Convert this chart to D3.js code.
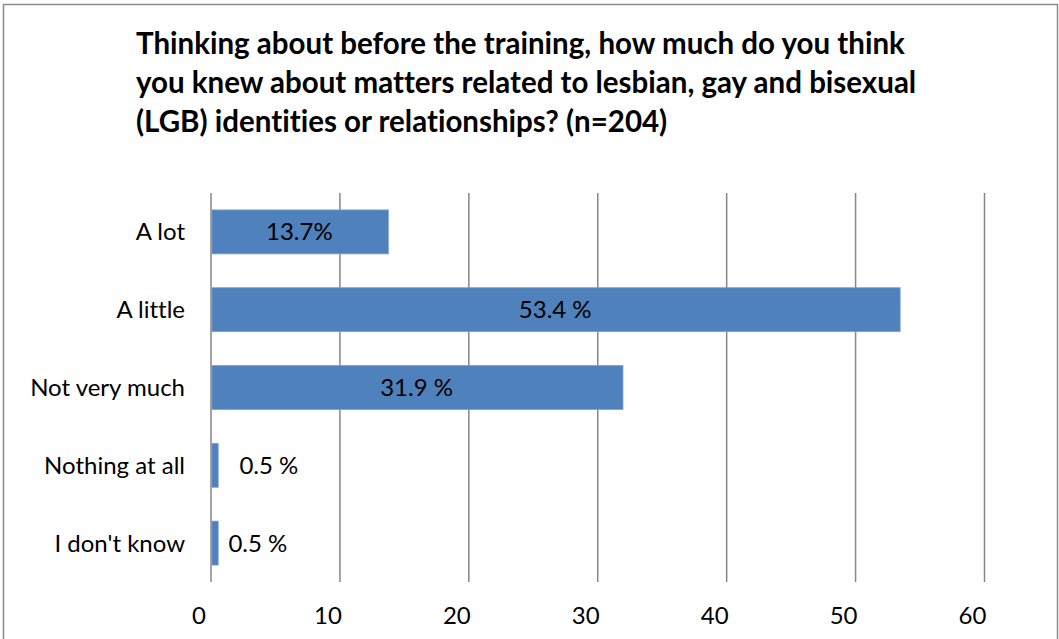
<!DOCTYPE html>
<html>
<head>
<meta charset="utf-8">
<script src="https://cdn.jsdelivr.net/npm/d3@7"></script>
<style>
  body { margin: 0; background: #fff; }
  svg text { font-family: Lato, "Open Sans", sans-serif; fill: #000; font-variant-ligatures: none; }
</style>
</head>
<body>
<div id="chart"></div>
<script>
// Data
const categories = ["A lot", "A little", "Not very much", "Nothing at all", "I don't know"];
const values = [13.7, 53.4, 31.9, 0.5, 0.5];
const valueLabels = ["13.7%", "53.4 %", "31.9 %", "0.5 %", "0.5 %"];
const xTicks = [0, 10, 20, 30, 40, 50, 60];
const titleLines = [
  "Thinking about before the training, how much do you think",
  "you knew about matters related to lesbian, gay and bisexual",
  "(LGB) identities or relationships? (n=204)"
];

const W = 1059, H = 639;
const margin = {top: 193, left: 211, right: 74, bottom: 57};
const width = 773.5,
      height = H - margin.top - margin.bottom;

const svg = d3.select("#chart").append("svg")
    .attr("width", W)
    .attr("height", H);

// outer chart border
svg.append("rect")
    .attr("x", 3.5).attr("y", 4.5)
    .attr("width", 1054).attr("height", 650)
    .attr("fill", "#fff")
    .attr("stroke", "#8c8c8c")
    .attr("stroke-width", 1.5);

// title
svg.append("g").selectAll("text")
    .data(titleLines)
    .join("text")
    .attr("x", 136)
    .attr("y", (d, i) => 54 + i * 39)
    .attr("font-size", 29.5)
    .attr("font-weight", "bold")
    .text(d => d);

const g = svg.append("g")
    .attr("transform", "translate(" + margin.left + "," + margin.top + ")");

const x = d3.scaleLinear().domain([0, 60]).range([0, width]);

const y = d3.scaleBand()
    .domain(categories)
    .range([0, height])
    .paddingInner(0.435)
    .paddingOuter(0.2175);

// vertical gridlines
g.append("g").selectAll("line")
    .data(xTicks)
    .join("line")
    .attr("x1", d => x(d)).attr("x2", d => x(d))
    .attr("y1", 0).attr("y2", height)
    .attr("stroke", "#868686")
    .attr("stroke-width", 1.5);

// x tick labels
g.append("g").selectAll("text")
    .data(xTicks)
    .join("text")
    .attr("x", d => x(d) - 12)
    .attr("y", height + 42)
    .attr("text-anchor", "middle")
    .attr("font-size", 24)
    .text(d => d);

// category labels
g.append("g").selectAll("text")
    .data(categories)
    .join("text")
    .attr("x", -26)
    .attr("y", d => y(d) + y.bandwidth() / 2)
    .attr("dy", "0.35em")
    .attr("text-anchor", "end")
    .attr("font-size", 24)
    .text(d => d);

// bars
const rows = categories.map((c, i) => ({cat: c, value: values[i], label: valueLabels[i]}));

g.append("g").selectAll("rect")
    .data(rows)
    .join("rect")
    .attr("x", x(0) + 0.75)
    .attr("y", d => y(d.cat))
    .attr("width", d => x(d.value) - x(0))
    .attr("height", y.bandwidth())
    .attr("fill", "#4f81bd")
    .attr("stroke", "#7ea1cf")
    .attr("stroke-width", 0.8);

// value labels: centred inside long bars, to the right of tiny ones
const outsideNudge = {"Nothing at all": 22, "I don't know": 11};
g.append("g").selectAll("text")
    .data(rows)
    .join("text")
    .attr("x", d => d.value > 5 ? x(d.value) / 2 : x(d.value) + outsideNudge[d.cat])
    .attr("y", d => y(d.cat) + y.bandwidth() / 2)
    .attr("dy", "0.35em")
    .attr("text-anchor", d => d.value > 5 ? "middle" : "start")
    .attr("font-size", 24)
    .text(d => d.label);
</script>
</body>
</html>
